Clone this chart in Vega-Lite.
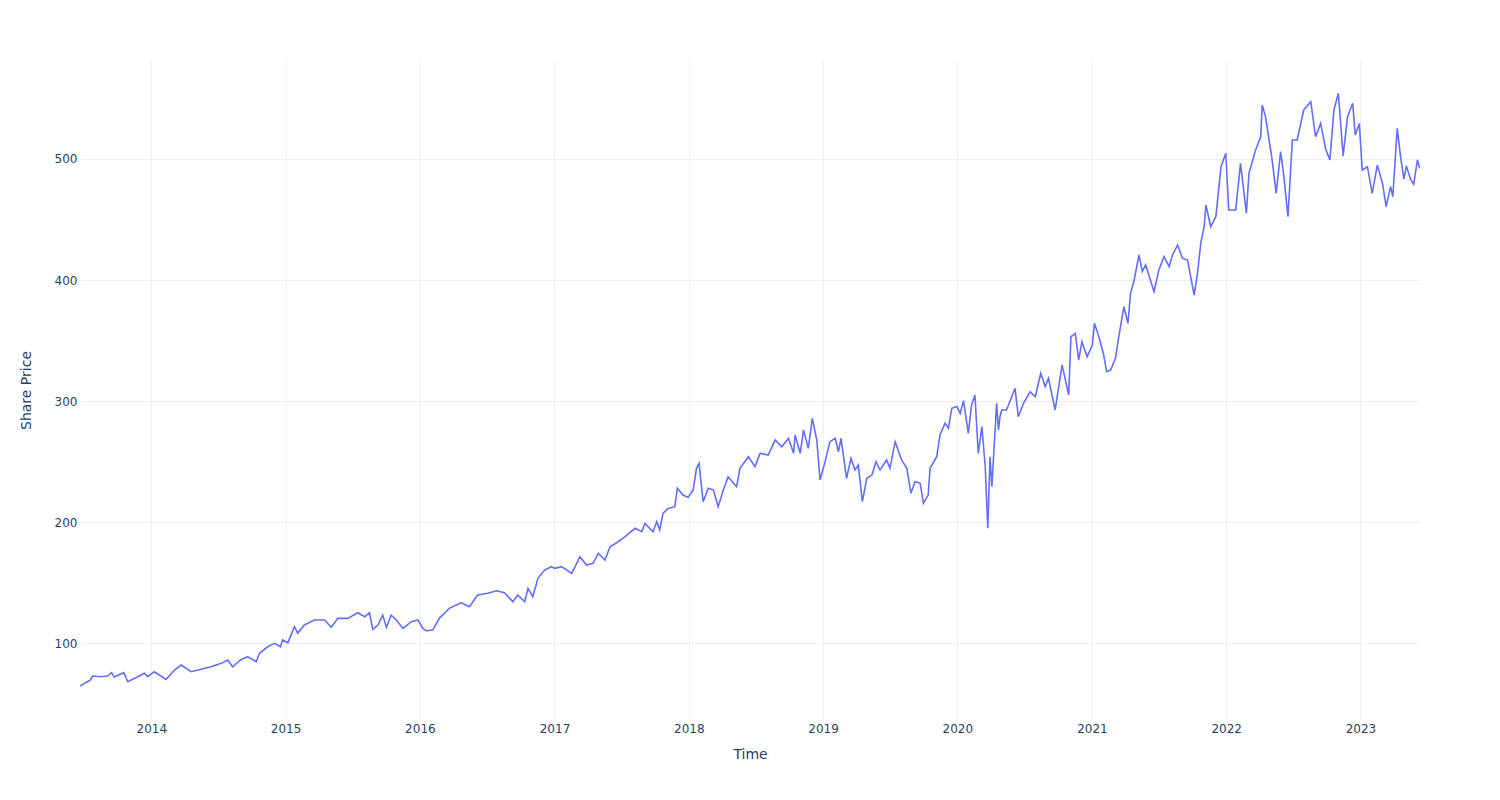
{
  "$schema": "https://vega.github.io/schema/vega-lite/v6.json",
  "width": 1340,
  "height": 660,
  "autosize": {"type": "none"},
  "padding": {"left": 80, "top": 60, "right": 80, "bottom": 80},
  "background": "white",
  "config": {
    "view": {"stroke": null},
    "font": "DejaVu Sans"
  },
  "data": {
    "values": [
      {"date": "2013-06-22", "price": 64.5},
      {"date": "2013-07-03", "price": 66.7},
      {"date": "2013-07-19", "price": 69.4},
      {"date": "2013-07-25", "price": 72.7},
      {"date": "2013-08-17", "price": 72.2},
      {"date": "2013-09-04", "price": 72.7},
      {"date": "2013-09-15", "price": 75.5},
      {"date": "2013-09-22", "price": 71.9},
      {"date": "2013-10-18", "price": 75.5},
      {"date": "2013-10-29", "price": 68.0},
      {"date": "2013-11-25", "price": 72.2},
      {"date": "2013-12-13", "price": 75.0},
      {"date": "2013-12-22", "price": 72.2},
      {"date": "2014-01-09", "price": 76.3},
      {"date": "2014-02-10", "price": 70.0},
      {"date": "2014-03-05", "price": 77.7},
      {"date": "2014-03-23", "price": 81.8},
      {"date": "2014-04-19", "price": 76.3},
      {"date": "2014-05-16", "price": 78.3},
      {"date": "2014-06-12", "price": 80.4},
      {"date": "2014-07-10", "price": 83.2},
      {"date": "2014-07-28", "price": 86.0},
      {"date": "2014-08-10", "price": 80.4},
      {"date": "2014-09-02", "price": 86.5},
      {"date": "2014-09-20", "price": 88.7},
      {"date": "2014-10-13", "price": 84.5},
      {"date": "2014-10-22", "price": 91.5},
      {"date": "2014-11-13", "price": 96.9},
      {"date": "2014-12-02", "price": 99.7},
      {"date": "2014-12-18", "price": 96.9},
      {"date": "2014-12-24", "price": 102.5},
      {"date": "2015-01-07", "price": 100.2},
      {"date": "2015-01-25", "price": 113.5},
      {"date": "2015-02-03", "price": 108.0},
      {"date": "2015-02-21", "price": 114.9},
      {"date": "2015-03-20", "price": 119.0},
      {"date": "2015-04-17", "price": 119.0},
      {"date": "2015-05-05", "price": 113.0},
      {"date": "2015-05-23", "price": 120.4},
      {"date": "2015-06-19", "price": 120.4},
      {"date": "2015-07-16", "price": 125.0},
      {"date": "2015-08-04", "price": 121.7},
      {"date": "2015-08-17", "price": 125.0},
      {"date": "2015-08-26", "price": 111.3},
      {"date": "2015-09-09", "price": 114.9},
      {"date": "2015-09-22", "price": 123.1},
      {"date": "2015-10-02", "price": 113.0},
      {"date": "2015-10-15", "price": 123.1},
      {"date": "2015-10-29", "price": 119.0},
      {"date": "2015-11-16", "price": 112.1},
      {"date": "2015-12-09", "price": 117.6},
      {"date": "2015-12-27", "price": 119.0},
      {"date": "2016-01-09", "price": 112.1},
      {"date": "2016-01-18", "price": 110.2},
      {"date": "2016-02-05", "price": 110.7},
      {"date": "2016-02-23", "price": 120.4},
      {"date": "2016-03-21", "price": 128.7},
      {"date": "2016-04-22", "price": 133.3},
      {"date": "2016-05-15", "price": 130.0},
      {"date": "2016-06-06", "price": 139.7},
      {"date": "2016-07-04", "price": 141.1},
      {"date": "2016-07-27", "price": 143.2},
      {"date": "2016-08-18", "price": 141.6},
      {"date": "2016-09-10", "price": 134.1},
      {"date": "2016-09-23", "price": 139.7},
      {"date": "2016-10-12", "price": 134.1},
      {"date": "2016-10-21", "price": 145.2},
      {"date": "2016-11-03", "price": 138.3},
      {"date": "2016-11-17", "price": 153.5},
      {"date": "2016-12-05", "price": 160.3},
      {"date": "2016-12-23", "price": 163.1},
      {"date": "2017-01-02", "price": 161.7},
      {"date": "2017-01-20", "price": 163.1},
      {"date": "2017-02-17", "price": 157.6},
      {"date": "2017-03-11", "price": 171.3},
      {"date": "2017-03-29", "price": 164.5},
      {"date": "2017-04-16", "price": 165.9},
      {"date": "2017-04-30", "price": 174.2},
      {"date": "2017-05-18", "price": 168.6},
      {"date": "2017-06-01", "price": 179.6},
      {"date": "2017-06-23", "price": 183.7},
      {"date": "2017-07-11", "price": 187.8},
      {"date": "2017-08-08", "price": 194.8},
      {"date": "2017-08-26", "price": 192.0},
      {"date": "2017-09-04", "price": 198.9},
      {"date": "2017-09-26", "price": 192.0},
      {"date": "2017-10-06", "price": 200.3},
      {"date": "2017-10-14", "price": 193.4},
      {"date": "2017-10-23", "price": 207.2},
      {"date": "2017-11-06", "price": 211.3},
      {"date": "2017-11-24", "price": 212.7},
      {"date": "2017-12-01", "price": 227.9},
      {"date": "2017-12-16", "price": 222.3},
      {"date": "2017-12-30", "price": 220.4},
      {"date": "2018-01-13", "price": 226.4},
      {"date": "2018-01-22", "price": 244.4},
      {"date": "2018-01-29", "price": 248.5},
      {"date": "2018-02-09", "price": 216.8},
      {"date": "2018-02-23", "price": 227.9},
      {"date": "2018-03-09", "price": 226.4},
      {"date": "2018-03-22", "price": 212.7},
      {"date": "2018-04-05", "price": 226.4},
      {"date": "2018-04-18", "price": 237.4},
      {"date": "2018-05-11", "price": 229.2},
      {"date": "2018-05-20", "price": 244.4},
      {"date": "2018-06-12", "price": 254.0},
      {"date": "2018-06-30", "price": 245.7},
      {"date": "2018-07-14", "price": 256.8},
      {"date": "2018-08-05", "price": 255.4},
      {"date": "2018-08-24", "price": 267.8},
      {"date": "2018-09-11", "price": 262.2},
      {"date": "2018-09-29", "price": 269.2},
      {"date": "2018-10-13", "price": 256.8},
      {"date": "2018-10-17", "price": 271.9},
      {"date": "2018-10-31", "price": 256.8},
      {"date": "2018-11-09", "price": 276.0},
      {"date": "2018-11-22", "price": 260.9},
      {"date": "2018-12-03", "price": 285.7},
      {"date": "2018-12-15", "price": 267.8},
      {"date": "2018-12-24", "price": 234.7},
      {"date": "2019-01-05", "price": 248.0},
      {"date": "2019-01-20", "price": 266.4},
      {"date": "2019-02-03", "price": 269.2},
      {"date": "2019-02-12", "price": 258.1},
      {"date": "2019-02-19", "price": 269.2},
      {"date": "2019-03-06", "price": 236.1},
      {"date": "2019-03-18", "price": 252.6},
      {"date": "2019-03-29", "price": 243.0},
      {"date": "2019-04-07", "price": 247.1},
      {"date": "2019-04-18", "price": 216.8},
      {"date": "2019-04-30", "price": 236.1},
      {"date": "2019-05-14", "price": 238.8},
      {"date": "2019-05-25", "price": 249.8},
      {"date": "2019-06-05", "price": 243.0},
      {"date": "2019-06-23", "price": 251.2},
      {"date": "2019-07-02", "price": 244.4},
      {"date": "2019-07-16", "price": 266.4},
      {"date": "2019-08-03", "price": 251.2},
      {"date": "2019-08-17", "price": 244.4},
      {"date": "2019-08-28", "price": 223.7},
      {"date": "2019-09-08", "price": 233.3},
      {"date": "2019-09-22", "price": 232.2},
      {"date": "2019-10-01", "price": 215.5},
      {"date": "2019-10-14", "price": 222.3},
      {"date": "2019-10-19", "price": 244.4},
      {"date": "2019-11-06", "price": 254.0},
      {"date": "2019-11-15", "price": 271.9},
      {"date": "2019-11-29", "price": 281.6},
      {"date": "2019-12-08", "price": 277.5},
      {"date": "2019-12-17", "price": 294.0},
      {"date": "2019-12-31", "price": 295.4},
      {"date": "2020-01-09", "price": 289.8},
      {"date": "2020-01-18", "price": 300.3},
      {"date": "2020-01-31", "price": 273.3},
      {"date": "2020-02-09", "price": 296.7},
      {"date": "2020-02-18", "price": 305.0},
      {"date": "2020-02-27", "price": 256.8},
      {"date": "2020-03-08", "price": 278.8},
      {"date": "2020-03-17", "price": 245.7},
      {"date": "2020-03-24", "price": 194.8},
      {"date": "2020-03-30", "price": 254.0},
      {"date": "2020-04-04", "price": 229.2},
      {"date": "2020-04-17", "price": 298.1},
      {"date": "2020-04-22", "price": 276.0},
      {"date": "2020-04-26", "price": 287.0},
      {"date": "2020-05-01", "price": 292.6},
      {"date": "2020-05-14", "price": 292.6},
      {"date": "2020-06-06", "price": 310.5},
      {"date": "2020-06-15", "price": 287.0},
      {"date": "2020-06-29", "price": 298.1},
      {"date": "2020-07-17", "price": 307.7},
      {"date": "2020-07-31", "price": 303.6},
      {"date": "2020-08-15", "price": 322.9},
      {"date": "2020-08-27", "price": 311.9},
      {"date": "2020-09-05", "price": 318.8},
      {"date": "2020-09-23", "price": 292.6},
      {"date": "2020-10-12", "price": 329.8},
      {"date": "2020-10-30", "price": 305.0},
      {"date": "2020-11-05", "price": 353.1},
      {"date": "2020-11-17", "price": 355.9},
      {"date": "2020-11-26", "price": 333.9},
      {"date": "2020-12-05", "price": 349.0},
      {"date": "2020-12-19", "price": 336.6},
      {"date": "2021-01-02", "price": 346.3},
      {"date": "2021-01-08", "price": 364.2},
      {"date": "2021-01-20", "price": 353.1},
      {"date": "2021-02-02", "price": 338.0},
      {"date": "2021-02-10", "price": 324.2},
      {"date": "2021-02-21", "price": 325.6},
      {"date": "2021-03-06", "price": 335.3},
      {"date": "2021-03-15", "price": 353.1},
      {"date": "2021-03-29", "price": 378.0},
      {"date": "2021-04-09", "price": 364.2},
      {"date": "2021-04-16", "price": 389.0},
      {"date": "2021-04-25", "price": 398.6},
      {"date": "2021-05-09", "price": 420.7},
      {"date": "2021-05-18", "price": 406.9},
      {"date": "2021-05-27", "price": 412.4},
      {"date": "2021-06-19", "price": 390.3},
      {"date": "2021-07-02", "price": 408.3},
      {"date": "2021-07-16", "price": 419.3},
      {"date": "2021-07-30", "price": 411.0},
      {"date": "2021-08-08", "price": 420.7},
      {"date": "2021-08-22", "price": 429.0},
      {"date": "2021-09-04", "price": 418.0},
      {"date": "2021-09-18", "price": 416.5},
      {"date": "2021-10-06", "price": 387.6},
      {"date": "2021-10-15", "price": 405.5},
      {"date": "2021-10-24", "price": 430.3},
      {"date": "2021-11-02", "price": 444.0},
      {"date": "2021-11-07", "price": 462.0},
      {"date": "2021-11-20", "price": 444.0},
      {"date": "2021-12-04", "price": 452.3},
      {"date": "2021-12-18", "price": 493.6},
      {"date": "2021-12-31", "price": 504.7},
      {"date": "2022-01-08", "price": 457.9},
      {"date": "2022-01-27", "price": 457.9},
      {"date": "2022-02-09", "price": 496.4},
      {"date": "2022-02-25", "price": 455.1},
      {"date": "2022-03-04", "price": 488.2},
      {"date": "2022-03-22", "price": 507.4},
      {"date": "2022-04-05", "price": 518.4},
      {"date": "2022-04-09", "price": 544.6},
      {"date": "2022-04-18", "price": 535.0},
      {"date": "2022-05-06", "price": 499.2},
      {"date": "2022-05-17", "price": 471.6},
      {"date": "2022-05-29", "price": 506.1},
      {"date": "2022-06-07", "price": 485.4},
      {"date": "2022-06-18", "price": 452.3},
      {"date": "2022-06-30", "price": 515.7},
      {"date": "2022-07-13", "price": 515.7},
      {"date": "2022-07-31", "price": 540.5},
      {"date": "2022-08-19", "price": 547.4},
      {"date": "2022-09-01", "price": 518.4},
      {"date": "2022-09-15", "price": 529.4},
      {"date": "2022-09-28", "price": 508.7},
      {"date": "2022-10-10", "price": 499.2},
      {"date": "2022-10-21", "price": 540.5},
      {"date": "2022-11-02", "price": 554.3},
      {"date": "2022-11-15", "price": 502.5},
      {"date": "2022-11-27", "price": 535.0},
      {"date": "2022-12-11", "price": 546.0},
      {"date": "2022-12-18", "price": 519.8},
      {"date": "2022-12-29", "price": 529.4},
      {"date": "2023-01-06", "price": 490.9},
      {"date": "2023-01-20", "price": 493.6},
      {"date": "2023-02-02", "price": 471.6},
      {"date": "2023-02-16", "price": 495.0},
      {"date": "2023-03-02", "price": 479.9},
      {"date": "2023-03-12", "price": 460.6},
      {"date": "2023-03-24", "price": 477.1},
      {"date": "2023-03-30", "price": 468.8},
      {"date": "2023-04-11", "price": 525.3},
      {"date": "2023-04-20", "price": 502.5},
      {"date": "2023-04-29", "price": 483.3},
      {"date": "2023-05-06", "price": 494.3},
      {"date": "2023-05-17", "price": 483.3},
      {"date": "2023-05-26", "price": 479.2},
      {"date": "2023-06-05", "price": 499.2},
      {"date": "2023-06-11", "price": 492.3}
    ]
  },
  "mark": {"type": "line", "color": "#636efa", "strokeWidth": 1.6, "clip": true},
  "encoding": {
    "x": {
      "field": "date",
      "type": "temporal",
      "title": "Time",
      "scale": {"domain": ["2013-06-21", "2023-06-12"], "nice": false},
      "axis": {
        "format": "%Y",
        "tickCount": {"interval": "year", "step": 1},
        "domain": false,
        "ticks": false,
        "labelPadding": 3,
        "labelFontSize": 12,
        "labelColor": "#2a3f5f",
        "gridColor": "#EBF0F8",
        "gridWidth": 1,
        "titleFontSize": 14,
        "titleFontWeight": "normal",
        "titleColor": "#2a3f5f",
        "titlePadding": 13
      }
    },
    "y": {
      "field": "price",
      "type": "quantitative",
      "title": "Share Price",
      "scale": {"domain": [36.4, 581.8], "nice": false, "zero": false},
      "axis": {
        "values": [100, 200, 300, 400, 500],
        "domain": false,
        "ticks": false,
        "labelPadding": 3,
        "labelFontSize": 12,
        "labelColor": "#2a3f5f",
        "gridColor": "#EBF0F8",
        "gridWidth": 1,
        "titleFontSize": 14,
        "titleFontWeight": "normal",
        "titleColor": "#2a3f5f",
        "titlePadding": 21
      }
    }
  }
}
